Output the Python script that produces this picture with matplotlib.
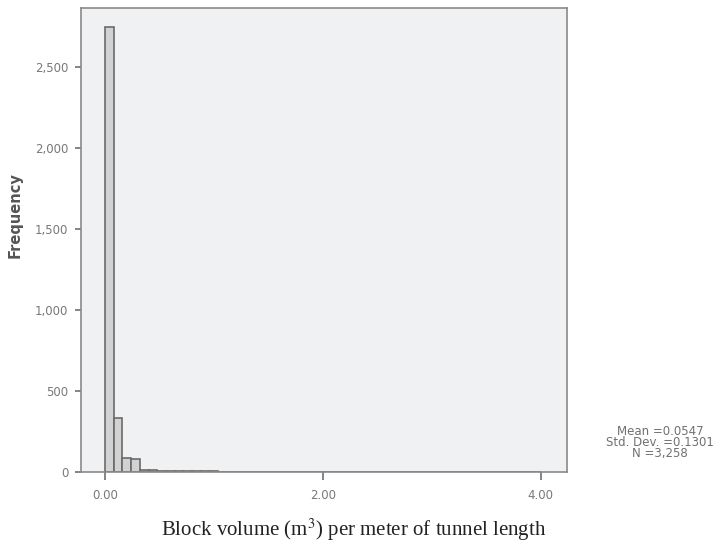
import numpy as np
import matplotlib
matplotlib.use("Agg")
import matplotlib.pyplot as plt

# Histogram of block volume per metre of tunnel (bin width 0.08 m^3)
bin_width = 0.08
counts = [2745, 332, 86, 78, 14, 12, 8, 9, 6, 5, 8, 6, 4, 0, 0, 0, 2, 0, 0, 0,
          2, 0, 0, 0, 0, 0, 0, 0, 0, 0, 0, 0, 0, 0, 0, 0, 0, 1, 0, 0,
          0, 0, 0, 0, 0, 0, 0, 0, 2, 0]
x_ticks = [0.0, 2.0, 4.0]
x_tick_labels = ["0.00", "2.00", "4.00"]
y_ticks = [0, 500, 1000, 1500, 2000, 2500]
y_tick_labels = ["0", "500", "1,000", "1,500", "2,000", "2,500"]
stats_lines = ["Mean =0.0547", "Std. Dev. =0.1301", "N =3,258"]

fig = plt.figure(figsize=(7.22, 5.42), dpi=100)
ax = fig.add_axes([0.1122, 0.1292, 0.6731, 0.856])
ax.set_facecolor("#f0f1f3")

lefts = np.arange(len(counts)) * bin_width
ax.bar(lefts, counts, width=bin_width, align="edge",
       facecolor="#d2d2d2", edgecolor="#6a6a6a", linewidth=1.2)

ax.set_xlim(-0.22, 4.24)
ax.set_ylim(0, 2864)

ax.set_xticks(x_ticks)
ax.set_xticklabels(x_tick_labels)
ax.set_yticks(y_ticks)
ax.set_yticklabels(y_tick_labels)
ax.tick_params(axis="both", colors="#707070", labelcolor="#787878",
               labelsize=8.5, length=4.5, width=1.2, direction="out")
ax.tick_params(axis="x", length=6, pad=6)
ax.tick_params(axis="y", pad=4.5)
for lab in ax.get_xticklabels() + ax.get_yticklabels():
    lab.set_family("DejaVu Sans")

for s in ax.spines.values():
    s.set_color("#8a8a8a")
    s.set_linewidth(1.2)

fig.text(0.021, 0.603, "Frequency", rotation=90, ha="center", va="center",
         fontsize=10.5, fontweight="bold", color="#555555",
         family="DejaVu Sans")

fig.text(0.914, 0.183, "\n".join(stats_lines), ha="center", va="center",
         fontsize=8.5, color="#707070", family="DejaVu Sans",
         linespacing=0.8)

fig.text(0.49, 0.022, "Block volume (m$^3$) per meter of tunnel length",
         ha="center", va="center", fontsize=15, color="#222222",
         family="Liberation Serif", math_fontfamily="stix")

fig.savefig("out.png", dpi=100, facecolor="white")
